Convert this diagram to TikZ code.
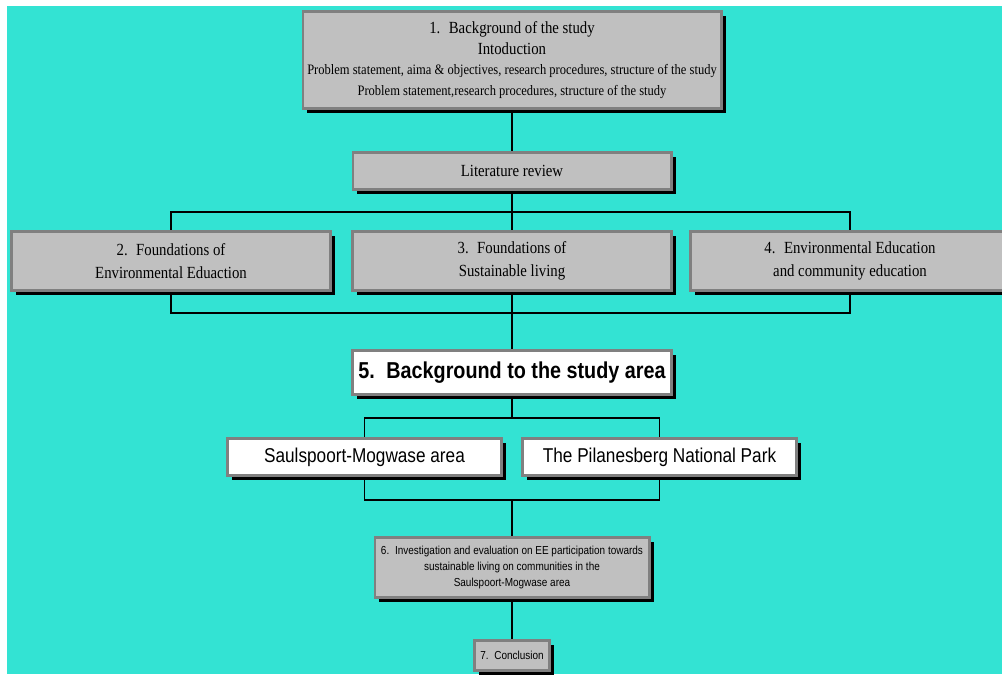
\documentclass[tikz,border=0pt]{standalone}
\usepackage{fontspec}
\newfontfamily\tms[FakeStretch=0.87]{Liberation Serif}
\newfontfamily\ars[FakeStretch=0.86]{Liberation Sans}
\usetikzlibrary{shadows}
\definecolor{sea}{RGB}{51,227,211}
\definecolor{boxgray}{RGB}{192,192,192}
\definecolor{rimgray}{RGB}{128,128,128}
\pgfdeclarelayer{ground}
\pgfdeclarelayer{links}
\pgfsetlayers{ground,links,main}
\newcommand{\smallline}{\fontsize{10.8}{15.5}\selectfont}
\begin{document}
\begin{tikzpicture}[x=0.75pt,y=-0.75pt,
  card/.style 2 args={draw=rimgray, line width=1.9pt, inner sep=0pt,
    minimum width={#1*0.75pt-1.9pt}, minimum height={#2*0.75pt-1.9pt},
    align=center, text=black,
    general shadow={fill=black, shadow xshift=3.4pt, shadow yshift=-3.4pt}},
  graycard/.style={fill=boxgray},
  whitecard/.style={fill=white},
  serifbig/.style={font=\tms\fontsize{12.75}{17.25}\selectfont},
  link/.style={draw=black, line width=1.3pt}]
\useasboundingbox (0,0) rectangle (1002,674);
\clip (0,0) rectangle (1002,674);
\begin{pgfonlayer}{ground}
  \fill[white] (0,0) rectangle (1002,674);
  \fill[sea] (7,6) rectangle (1002,674);
\end{pgfonlayer}

% chapter boxes
\node[card={421}{100}, graycard, font=\tms\fontsize{12.75}{15.5}\selectfont] (b1) at (512,60)
  {1.\enspace Background of the study\\
   Intoduction\\
   \smallline\makebox[0pt]{Problem statement, aima \& objectives, research procedures, structure of the study}\\
   \smallline Problem statement,research procedures, structure of the study};
\node[card={321}{40}, graycard, serifbig] (lit) at (512,171) {Literature review};
\node[card={322}{62}, graycard, serifbig] (b2) at (171,261)
  {2.\enspace Foundations of\\ Environmental Eduaction};
\node[card={322}{62}, graycard, serifbig] (b3) at (512,261)
  {3.\enspace Foundations of\\ Sustainable living};
\node[card={322}{62}, graycard, serifbig] (b4) at (850,261)
  {4.\enspace Environmental Education\\ and community education};
\node[card={322}{47}, whitecard, font=\ars\bfseries\fontsize{17.25}{20}\selectfont] (b5) at (512,372.5)
  {5.\enspace Background to the study area};
\node[card={277}{40}, whitecard, font=\ars\fontsize{15}{18}\selectfont] (sa) at (364.5,457)
  {Saulspoort-Mogwase area};
\node[card={277}{40}, whitecard, font=\ars\fontsize{15}{18}\selectfont] (pi) at (659.5,457)
  {The Pilanesberg National Park};
\node[card={277}{63}, graycard, font=\ars\fontsize{8.7}{12}\selectfont] (b6) at (512,567.5)
  {6.\enspace Investigation and evaluation on EE participation towards\\
   sustainable living on communities in the\\ Saulspoort-Mogwase area};
\node[card={78}{33}, graycard, font=\ars\fontsize{8.7}{11}\selectfont] (b7) at (512,655.5)
  {7.\enspace Conclusion};

% connectors
\begin{pgfonlayer}{links}
  \coordinate (r1) at (512,212);
  \coordinate (r2) at (512,313);
  \coordinate (r3) at (512,418);
  \coordinate (r4) at (512,500);
  \draw[link] (b1.south) -- (lit.north);
  \draw[link] (lit.south) -- (r1);
  \draw[link] (b2.north) |- (r1) -| (b4.north);
  \draw[link] (r1) -- (b3.north);
  \draw[link] (b2.south) |- (r2) -| (b4.south);
  \draw[link] (b3.south) -- (r2);
  \draw[link] (r2) -- (b5.north);
  \draw[link] (b5.south) -- (r3);
  \draw[link] (sa.north) |- (r3) -| (pi.north);
  \draw[link] (sa.south) |- (r4) -| (pi.south);
  \draw[link] (r4) -- (b6.north);
  \draw[link] (b6.south) -- (b7.north);
\end{pgfonlayer}
\end{tikzpicture}
\end{document}
